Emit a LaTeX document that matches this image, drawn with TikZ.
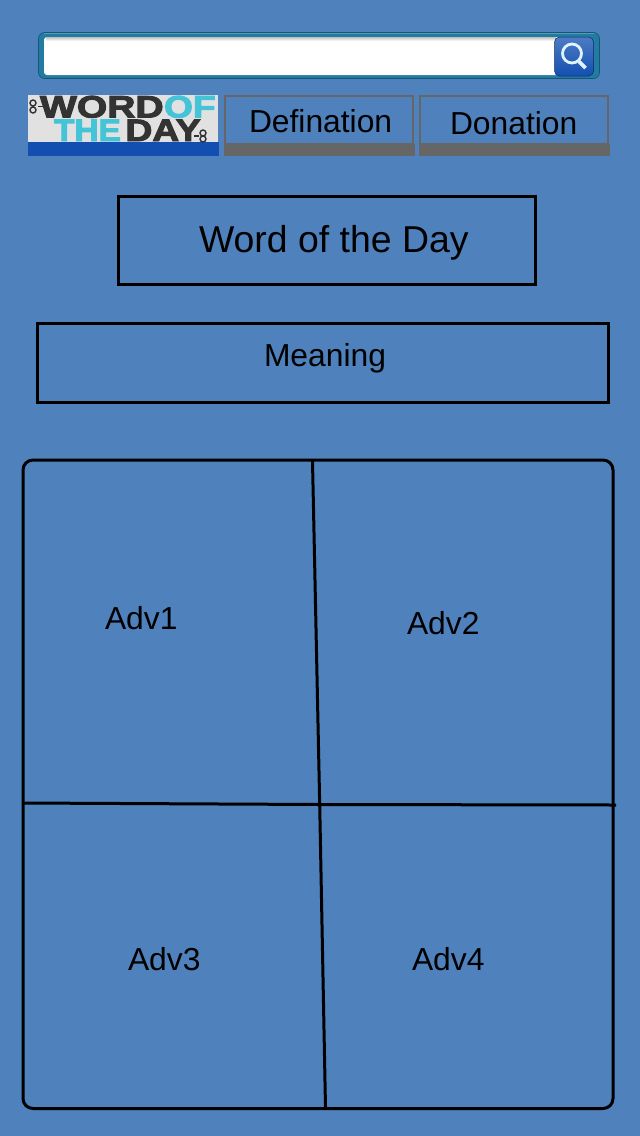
\documentclass[tikz,border=0pt]{standalone}
\usepackage{fontspec}
\setmainfont{Liberation Sans}
\newfontfamily\logofont[FakeBold=3]{Liberation Sans Bold}
\definecolor{bgblue}{HTML}{4F81BD}
\definecolor{barteal}{HTML}{217BA3}
\definecolor{bargray}{HTML}{666666}
\definecolor{stripblue}{HTML}{134FB0}
\definecolor{logogray}{HTML}{E1E1E1}
\definecolor{logodark}{HTML}{333333}
\definecolor{logocyan}{HTML}{45C4D8}
\definecolor{glass}{HTML}{E0F4FF}
\tikzset{
  x=1pt,y=-1pt,
  label32/.style={anchor=base west,inner sep=0pt,outer sep=0pt,font=\fontsize{31.8}{32}\selectfont,text=black},
  label37/.style={anchor=base west,inner sep=0pt,outer sep=0pt,font=\fontsize{37.4}{37.4}\selectfont,text=black},
  frame/.style={draw=black,line width=3pt},
  divider/.style={draw=black,line width=3pt},
  navbox/.style={draw=bargray,line width=2pt},
  navstrip/.style={fill=bargray},
  logotext/.style={anchor=base west,inner sep=0pt,outer sep=0pt,font=\logofont\fontsize{31}{31}\selectfont,transform shape},
  clip ring/.style={draw=logodark,line width=1.4pt}
}
\begin{document}
\begin{tikzpicture}
\useasboundingbox (0,0) rectangle (640,1136);
\fill[bgblue] (0,0) rectangle (640,1136);
% search bar
\fill[rounded corners=6pt,fill=barteal,draw=barteal!70!black,line width=0.6pt] (38.5,32.5) rectangle (599.5,78.5);
\fill[barteal!75!white] (44,33.2) rectangle (594,34.4);
\fill[rounded corners=3pt,white] (44,37) rectangle (560,75);
\shade[top color=black!25,bottom color=white] (46,37) rectangle (556,41);
\shade[rounded corners=5pt,top color=stripblue!75!white,bottom color=stripblue,draw=black!45!stripblue,line width=0.5pt] (554.5,37) rectangle (593.5,76);
\draw[glass,line width=2.8pt] (572,53.5) circle (9.5pt);
\draw[glass,line width=3.6pt] (579,61.5) -- (585.5,68);
% logo
\fill[logogray] (28,95) rectangle (218,142);
\fill[stripblue] (28,142) rectangle (219,156);
\begin{scope}[xscale=1.26]
\node[logotext,text=logodark] (logoword) at (40/1.26,117.5) {WORD};
\end{scope}
\begin{scope}[xscale=1.2]
\node[logotext,text=logocyan] (logoof) at (164/1.2,117.5) {OF};
\end{scope}
\begin{scope}[xscale=1.08]
\node[logotext,text=logocyan] (logothe) at (54/1.08,141) {THE};
\end{scope}
\begin{scope}[xscale=1.2]
\node[logotext,text=logodark] (logoday) at (125.5/1.2,141) {DAY};
\end{scope}
\draw[clip ring] (33,103) circle (3pt) (33,110) circle (3pt);
\draw[clip ring] (38,106.5) -- (44,106.5);
\draw[clip ring] (203,133) circle (3pt) (203,139) circle (3pt);
\draw[clip ring] (194,136) -- (199,136);
% nav buttons
\fill[navstrip] (224,144) rectangle (415,156);
\draw[navbox] (225,96) rectangle (413,144);
\node[label32] (defination) at (249,132) {Defination};
\fill[navstrip] (419,144) rectangle (610,156);
\draw[navbox] (420,96) rectangle (608,144);
\node[label32] (donation) at (450,134) {Donation};
% title boxes
\draw[frame] (118.5,196.5) rectangle (535.5,284.5);
\node[label37] (title) at (199,252) {Word of the Day};
\draw[frame] (37.5,323.5) rectangle (608.5,402.5);
\node[label32] (meaning) at (264,366) {Meaning};
% advert grid
\draw[frame,rounded corners=10pt] (23,460) rectangle (613,1108.5);
\coordinate (gridtop) at (312.5,461);
\coordinate (gridmid) at (319.7,804.5);
\coordinate (gridbot) at (325.5,1108);
\coordinate (gridleft) at (23,803);
\coordinate (gridright) at (616,805);
\draw[divider] (gridtop) -- (gridmid) -- (gridbot);
\draw[divider] (gridleft) -- (gridmid) -- (gridright);
\node[label32] (adv1) at (105,629) {Adv1};
\node[label32] (adv2) at (407,634) {Adv2};
\node[label32] (adv3) at (128,970) {Adv3};
\node[label32] (adv4) at (412,970) {Adv4};
\end{tikzpicture}
\end{document}
